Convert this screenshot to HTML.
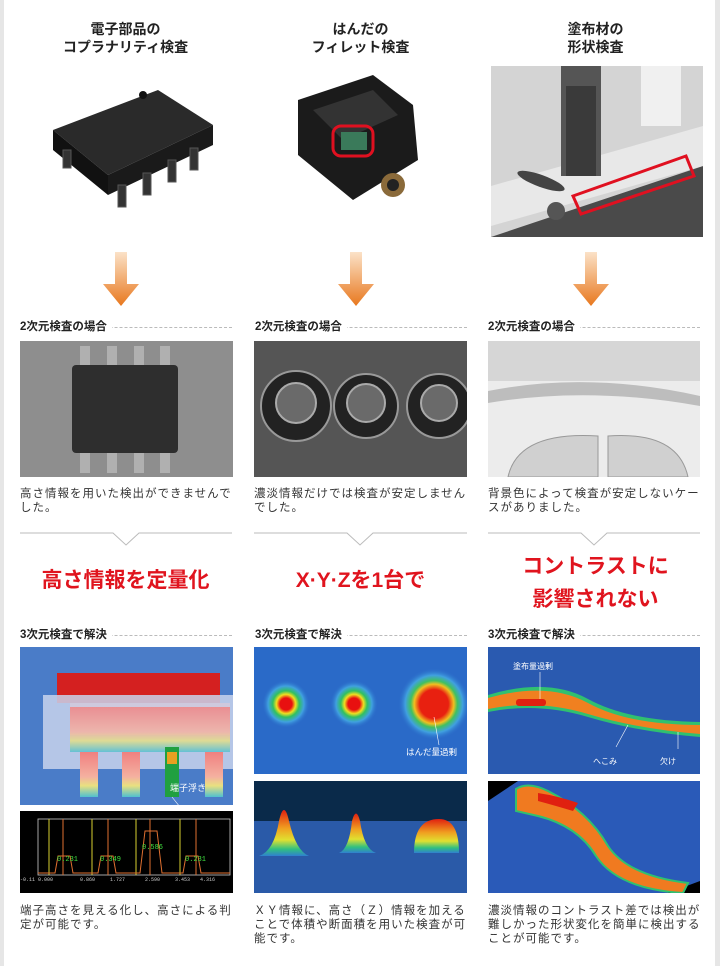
<!DOCTYPE html>
<html><head><meta charset="utf-8"><style>
body{margin:0;width:720px;height:966px;background:#fff;position:relative;overflow:hidden;font-family:"Liberation Sans","Noto Sans CJK JP",sans-serif;color:#222}
.a{position:absolute}
.t{font-weight:bold;font-size:14px;text-align:center;line-height:18px;width:215px}
.lb{font-weight:bold;font-size:11.5px;line-height:14px;background:#fff;padding-right:5px}
.dl{border-top:1px dashed #bbb;height:0}
.tx{font-size:11.5px;line-height:14px;color:#333;letter-spacing:1px}
.hl{color:#e0141e;font-weight:bold;font-size:21px;text-align:center;width:215px;line-height:30px}
</style></head><body>
<div class="a" style="left:0;top:0;width:4px;height:966px;background:#e6e6e6"></div>
<div class="a" style="right:0;top:0;width:5px;height:966px;background:#e6e6e6"></div>

<div class="a t" style="left:18px;top:20px">電子部品の<br>コプラナリティ検査</div>
<div class="a t" style="left:253px;top:20px">はんだの<br>フィレット検査</div>
<div class="a t" style="left:488px;top:20px">塗布材の<br>形状検査</div>

<svg class="a" style="left:18px;top:60px" width="215" height="180">
<polygon points="35,70 140,30 195,65 90,115" fill="#2a2a2a"/>
<polygon points="35,70 90,115 90,135 35,90" fill="#111"/>
<polygon points="90,115 195,65 195,85 90,135" fill="#1a1a1a"/>
<g fill="#333" stroke="#555"><rect x="100" y="125" width="8" height="22"/><rect x="125" y="113" width="8" height="22"/><rect x="150" y="100" width="8" height="22"/><rect x="172" y="88" width="8" height="22"/><rect x="45" y="90" width="8" height="18"/></g>
<circle cx="125" cy="35" r="4" fill="#111"/>
</svg>
<svg class="a" style="left:253px;top:60px" width="215" height="180">
<polygon points="45,40 120,15 160,45 165,100 100,140 45,95" fill="#1b1b1b"/>
<polygon points="60,50 120,30 145,55 90,80" fill="#333"/>
<rect x="80" y="66" width="40" height="30" rx="8" fill="none" stroke="#e01020" stroke-width="3"/>
<rect x="88" y="72" width="26" height="18" fill="#3a7a5a"/>
<circle cx="140" cy="125" r="12" fill="#8a6a3a"/><circle cx="140" cy="125" r="6" fill="#222"/>
</svg>
<svg class="a" style="left:491px;top:66px" width="212" height="171">
<rect width="212" height="171" fill="#d4d4d4"/>
<polygon points="0,171 212,100 212,171" fill="#4a4a4a"/>
<polygon points="0,120 212,60 212,100 0,160" fill="#e8e8e8"/>
<rect x="70" y="0" width="40" height="110" fill="#555"/><rect x="75" y="20" width="30" height="90" fill="#3a3a3a"/>
<rect x="150" y="0" width="40" height="60" fill="#f0f0f0"/>
<ellipse cx="50" cy="115" rx="25" ry="6" fill="#444" transform="rotate(20 50 115)"/>
<circle cx="65" cy="145" r="9" fill="#555"/>
<polygon points="82,130 195,90 203,110 90,148" fill="none" stroke="#e01020" stroke-width="3"/>
</svg>

<svg class="a" style="left:0;top:250px" width="720" height="60"><defs><linearGradient id="og" x1="0" y1="0" x2="0" y2="1"><stop offset="0" stop-color="#fbe2c8"/><stop offset="1" stop-color="#e8781e"/></linearGradient></defs>
<g fill="url(#og)"><path d="M115,2h12v32h12l-18,22l-18,-22h12z"/><path d="M350,2h12v32h12l-18,22l-18,-22h12z"/><path d="M585,2h12v32h12l-18,22l-18,-22h12z"/></g></svg>

<div class="a dl" style="left:20px;top:327px;width:212px"></div><div class="a lb" style="left:20px;top:320px">2次元検査の場合</div>
<div class="a dl" style="left:255px;top:327px;width:212px"></div><div class="a lb" style="left:255px;top:320px">2次元検査の場合</div>
<div class="a dl" style="left:488px;top:327px;width:212px"></div><div class="a lb" style="left:488px;top:320px">2次元検査の場合</div>

<svg class="a" style="left:20px;top:341px" width="213" height="136"><rect width="213" height="136" fill="#8e8e8e"/>
<g fill="#b0b0b0"><rect x="60" y="5" width="10" height="20"/><rect x="87" y="5" width="10" height="20"/><rect x="114" y="5" width="10" height="20"/><rect x="140" y="5" width="10" height="20"/><rect x="60" y="110" width="10" height="22"/><rect x="87" y="110" width="10" height="22"/><rect x="114" y="110" width="10" height="22"/><rect x="140" y="110" width="10" height="22"/></g>
<rect x="52" y="24" width="106" height="88" rx="4" fill="#2e2e2e"/></svg>
<svg class="a" style="left:254px;top:341px" width="213" height="136"><rect width="213" height="136" fill="#555"/>
<g fill="#222" stroke="#999" stroke-width="2"><circle cx="42" cy="65" r="35"/><circle cx="112" cy="65" r="32"/><circle cx="185" cy="65" r="32"/></g>
<g fill="#6a6a6a" stroke="#aaa" stroke-width="2"><circle cx="42" cy="62" r="20"/><circle cx="112" cy="62" r="19"/><circle cx="185" cy="62" r="18"/></g></svg>
<svg class="a" style="left:488px;top:341px" width="212" height="136"><rect width="212" height="136" fill="#ececec"/>
<rect y="0" width="212" height="40" fill="#d6d6d6"/><path d="M0,50 Q100,30 212,55 L212,65 Q100,45 0,62Z" fill="#bdbdbd"/>
<path d="M20,136 Q30,90 110,95 L110,136Z M120,95 Q190,90 200,136 L120,136Z" fill="#d0d0d0" stroke="#999"/></svg>

<div class="a tx" style="left:20px;top:487px;width:215px">高さ情報を用いた検出ができませんでした。</div>
<div class="a tx" style="left:254px;top:487px;width:215px">濃淡情報だけでは検査が安定しませんでした。</div>
<div class="a tx" style="left:488px;top:487px;width:215px">背景色によって検査が安定しないケースがありました。</div>

<svg class="a" style="left:0;top:530px" width="720" height="20"><g fill="none" stroke="#bbb"><path d="M20,3H113L126,15L139,3H232"/><path d="M254,3H347L360,15L373,3H467"/><path d="M488,3H581L594,15L607,3H700"/></g></svg>

<div class="a hl" style="left:18px;top:566px">高さ情報を定量化</div>
<div class="a hl" style="left:253px;top:566px">X·Y·Zを1台で</div>
<div class="a hl" style="left:488px;top:550px;line-height:33px">コントラストに<br>影響されない</div>

<div class="a dl" style="left:20px;top:635px;width:212px"></div><div class="a lb" style="left:20px;top:628px">3次元検査で解決</div>
<div class="a dl" style="left:255px;top:635px;width:212px"></div><div class="a lb" style="left:255px;top:628px">3次元検査で解決</div>
<div class="a dl" style="left:488px;top:635px;width:212px"></div><div class="a lb" style="left:488px;top:628px">3次元検査で解決</div>

<svg class="a" style="left:20px;top:647px" width="213" height="158"><defs><linearGradient id="cg" x1="0" y1="0" x2="0" y2="1"><stop offset="0" stop-color="#f08080"/><stop offset=".55" stop-color="#f4b0a0"/><stop offset=".75" stop-color="#e8e080"/><stop offset="1" stop-color="#50c0d0"/></linearGradient></defs>
<rect width="213" height="158" fill="#4a7cc8"/>
<rect x="37" y="26" width="163" height="30" fill="#d42020"/>
<rect x="50" y="56" width="160" height="32" fill="#f09090"/>
<rect x="23" y="48" width="192" height="74" fill="#c8d4ec" opacity=".85"/>
<rect x="50" y="60" width="160" height="45" fill="url(#cg)" opacity=".8"/>
<g fill="url(#cg)"><rect x="60" y="105" width="18" height="45"/><rect x="102" y="105" width="18" height="45"/><rect x="185" y="105" width="18" height="45"/></g>
<rect x="145" y="100" width="14" height="50" fill="#20a040"/><rect x="147" y="105" width="10" height="12" fill="#e8a020"/>
<line x1="152" y1="150" x2="168" y2="170" stroke="#fff" stroke-width=".6"/>
<text x="150" y="144" font-size="9" fill="#fff" font-family="Liberation Sans,Noto Sans CJK JP,sans-serif">端子浮き</text></svg>
<svg class="a" style="left:20px;top:811px" width="213" height="82"><rect width="213" height="82" fill="#000"/>
<rect x="18" y="8" width="192" height="56" fill="none" stroke="#ccc" stroke-width=".8"/>
<g stroke="#d8d030" stroke-width="1"><line x1="29" y1="8" x2="29" y2="64"/><line x1="72" y1="8" x2="72" y2="64"/><line x1="116" y1="8" x2="116" y2="64"/><line x1="160" y1="8" x2="160" y2="64"/></g>
<g stroke="#e07030" stroke-width="1"><line x1="43" y1="8" x2="43" y2="64"/><line x1="88" y1="8" x2="88" y2="64"/><line x1="130" y1="8" x2="130" y2="64"/><line x1="176" y1="8" x2="176" y2="64"/></g>
<path d="M18,62H35L38,45H50L53,62H78L81,45H93L96,62H120L125,20H137L142,62H163L166,45H178L181,62H210" fill="none" stroke="#e07030"/>
<g font-size="7" fill="#40e040" font-family="Liberation Mono,monospace"><text x="37" y="50">0.231</text><text x="80" y="50">0.349</text><text x="122" y="38">0.586</text><text x="165" y="50">0.231</text></g>
<g font-size="5" fill="#ccc" font-family="Liberation Mono,monospace"><text x="0" y="70">-0.11 0.000</text><text x="60" y="70">0.860</text><text x="90" y="70">1.727</text><text x="125" y="70">2.590</text><text x="155" y="70">3.453</text><text x="180" y="70">4.316</text></g></svg>

<svg class="a" style="left:254px;top:647px" width="213" height="127"><defs><radialGradient id="rg"><stop offset=".25" stop-color="#e81010"/><stop offset=".4" stop-color="#f0e020"/><stop offset=".55" stop-color="#30c060"/><stop offset=".75" stop-color="#40a0e0"/><stop offset="1" stop-color="#2a6ac8" stop-opacity="0"/></radialGradient><radialGradient id="rg2"><stop offset=".4" stop-color="#e82010"/><stop offset=".55" stop-color="#f0c020"/><stop offset=".65" stop-color="#40c060"/><stop offset=".8" stop-color="#40a0e0"/><stop offset="1" stop-color="#2a6ac8" stop-opacity="0"/></radialGradient></defs>
<rect width="213" height="127" fill="#2a6ac8"/>
<circle cx="32" cy="57" r="24" fill="url(#rg)"/><circle cx="100" cy="57" r="24" fill="url(#rg)"/><circle cx="180" cy="57" r="36" fill="url(#rg2)"/>
<line x1="180" y1="70" x2="185" y2="98" stroke="#fff" stroke-width=".6"/>
<text x="152" y="108" font-size="8.5" fill="#fff" font-family="Liberation Sans,Noto Sans CJK JP,sans-serif">はんだ量過剰</text></svg>
<svg class="a" style="left:254px;top:781px" width="213" height="112"><defs><linearGradient id="pk" x1="0" y1="0" x2="0" y2="1"><stop offset="0" stop-color="#e02010"/><stop offset=".4" stop-color="#f0a020"/><stop offset=".65" stop-color="#e0e030"/><stop offset=".85" stop-color="#30c080"/><stop offset="1" stop-color="#3080d0"/></linearGradient></defs>
<rect width="213" height="112" fill="#0a2a4a"/><rect y="40" width="213" height="72" fill="#2a5aa8"/>
<path d="M5,75 Q20,70 25,40 Q30,18 35,40 Q42,70 55,75Z" fill="url(#pk)"/>
<path d="M85,72 Q95,68 98,40 Q102,25 106,40 Q110,68 122,72Z" fill="url(#pk)"/>
<path d="M160,72 Q160,38 185,38 Q205,38 205,72Z" fill="url(#pk)"/></svg>

<svg class="a" style="left:488px;top:647px" width="212" height="127"><rect width="212" height="127" fill="#2a5ab0"/>
<path d="M0,48 Q60,30 100,52 T212,75 L212,90 Q150,85 100,70 T0,65Z" fill="#30c070"/>
<path d="M0,51 Q60,34 100,56 T212,78 L212,87 Q150,82 100,67 T0,62Z" fill="#f08020"/>
<rect x="28" y="52" width="30" height="7" rx="3" fill="#e02010"/>
<line x1="52" y1="25" x2="52" y2="52" stroke="#fff" stroke-width=".6"/>
<text x="25" y="22" font-size="8" fill="#fff" font-family="Liberation Sans,Noto Sans CJK JP,sans-serif">塗布量過剰</text>
<line x1="140" y1="78" x2="128" y2="100" stroke="#fff" stroke-width=".6"/><line x1="190" y1="85" x2="190" y2="102" stroke="#fff" stroke-width=".6"/>
<text x="105" y="117" font-size="8" fill="#fff" font-family="Liberation Sans,Noto Sans CJK JP,sans-serif">へこみ</text>
<text x="172" y="117" font-size="8" fill="#fff" font-family="Liberation Sans,Noto Sans CJK JP,sans-serif">欠け</text></svg>
<svg class="a" style="left:488px;top:781px" width="212" height="112"><rect width="212" height="112" fill="#000"/>
<polygon points="30,0 212,0 212,100 180,112 0,112 0,20" fill="#2a5ab8"/>
<path d="M28,8 Q40,0 60,10 Q100,30 120,65 Q140,95 200,102 L195,112 Q130,108 108,75 Q90,45 50,35 L28,30Z" fill="#f07a20" stroke="#30c070" stroke-width="2"/>
<path d="M50,12 Q70,15 90,22 L85,30 Q65,24 50,20Z" fill="#e02010"/></svg>

<div class="a tx" style="left:20px;top:904px;width:215px">端子高さを見える化し、高さによる判定が可能です。</div>
<div class="a tx" style="left:254px;top:904px;width:215px">ＸＹ情報に、高さ（Ｚ）情報を加えることで体積や断面積を用いた検査が可能です。</div>
<div class="a tx" style="left:488px;top:904px;width:215px">濃淡情報のコントラスト差では検出が難しかった形状変化を簡単に検出することが可能です。</div>
</body></html>
